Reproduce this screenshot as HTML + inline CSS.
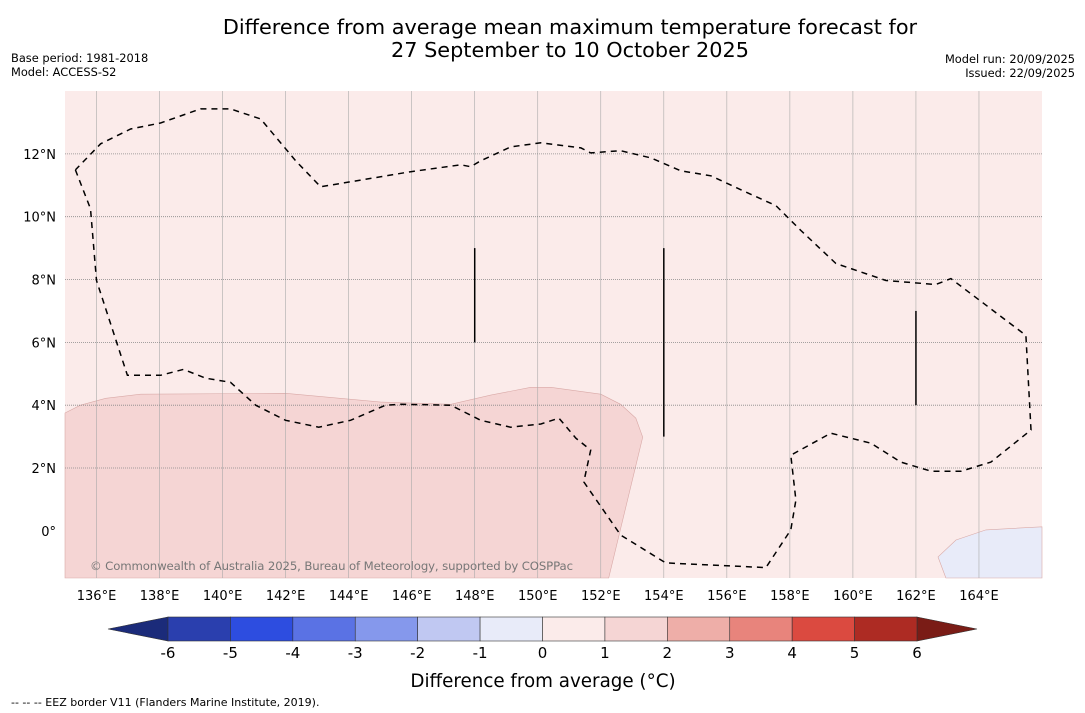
<!DOCTYPE html>
<html><head><meta charset="utf-8"><style>
body{margin:0;background:#fff;width:1085px;height:713px;overflow:hidden;font-family:"Liberation Sans","DejaVu Sans",sans-serif}
svg{position:absolute;left:0;top:0}
</style></head><body>
<svg id="c" width="1085" height="713" font-family="DejaVu Sans, Liberation Sans, sans-serif">
<text x="570" y="34" text-anchor="middle" font-size="20.8">Difference from average mean maximum temperature forecast for</text>
<text x="570" y="57" text-anchor="middle" font-size="20.8">27 September to 10 October 2025</text>
<text x="11" y="62" font-size="11.4">Base period: 1981-2018</text>
<text x="11" y="76" font-size="11.4">Model: ACCESS-S2</text>
<text x="1075" y="63" font-size="11.4" text-anchor="end">Model run: 20/09/2025</text>
<text x="1075" y="77" font-size="11.4" text-anchor="end">Issued: 22/09/2025</text>
<g id="map"></g>
<g id="cbar"></g>
<text x="543" y="687" text-anchor="middle" font-size="18.3">Difference from average (°C)</text>
<text x="11" y="706" font-size="11">--  --  -- EEZ border V11 (Flanders Marine Institute, 2019).</text>
</svg>
<script>
const lonTicks=[136,138,140,142,144,146,148,150,152,154,156,158,160,162,164];
const latTicks=[0,2,4,6,8,10,12];
const anomalyLevels=[-6,-5,-4,-3,-2,-1,0,1,2,3,4,5,6];
const levelColors=["#2a3fae","#2d4de0","#5a72e4","#8598ec","#c0c8f2","#e8ebf9","#fbebea","#f5d5d4","#eeaea8","#e8847c","#db4a40","#ad2b23"];
const warmRegion=[[135,3.75],[135.49,4.0],[136.29,4.22],[137.4,4.35],[142,4.38],[145.02,4.1],[147.24,4.03],[148.51,4.32],[149.78,4.57],[150.41,4.57],[152,4.35],[152.63,4.03],[153.11,3.59],[153.33,2.98],[152.25,-1.5],[135,-1.5]];
const coolRegion=[[162.95,-1.5],[162.7,-0.83],[163.27,-0.29],[164.22,0.03],[166,0.13],[166,-1.5]];
const eezBorder=[[135.33,11.49],[135.81,10.25],[136,7.97],[136.98,4.95],[138.03,4.95],[138.76,5.14],[139.46,4.86],[140.25,4.73],[141.05,4],[142,3.52],[143.05,3.3],[144.06,3.52],[145.17,4],[145.65,4.03],[147.24,4],[148.19,3.52],[149.14,3.3],[150.1,3.4],[150.67,3.59],[151.21,2.95],[151.68,2.57],[151.46,1.56],[152.63,-0.13],[154.06,-1.02],[157.24,-1.17],[158.03,0.03],[158.19,0.98],[158.03,2.41],[159.3,3.11],[160.57,2.79],[161.52,2.19],[162.48,1.9],[163.43,1.9],[164.38,2.19],[165.65,3.21],[165.49,6.22],[163.11,8.03],[162.63,7.84],[161.05,7.97],[159.46,8.51],[158.35,9.56],[157.56,10.35],[156.44,10.86],[155.49,11.3],[154.54,11.46],[153.59,11.87],[152.63,12.1],[151.68,12.03],[151.37,12.19],[150.1,12.35],[149.14,12.22],[148.19,11.78],[147.87,11.59],[147.56,11.65],[145.97,11.43],[143.11,10.95],[142.32,11.78],[141.21,13.11],[140.25,13.43],[139.3,13.43],[138.03,12.98],[137.08,12.79],[136.13,12.32],[135.33,11.49]];
const eezSegments=[[148,9,6],[154,9,3],[162,7,4]];
const NS="http://www.w3.org/2000/svg";
const X0=65,X1=1042,Y0=91,Y1=578,LON0=135,LON1=166,LAT0=-1.5,LAT1=14;
const lx=l=>X0+(l-LON0)/(LON1-LON0)*(X1-X0);
const ly=l=>Y1-(l-LAT0)/(LAT1-LAT0)*(Y1-Y0);
function mk(tag,attrs,parent){const e=document.createElementNS(NS,tag);for(const k in attrs)e.setAttribute(k,attrs[k]);parent.appendChild(e);return e;}
const map=document.getElementById('map');
let bg=mk('rect',{x:X0,y:Y0,width:X1-X0,height:Y1-Y0,fill:"#fbebea"},map);


const pts=a=>a.map(p=>lx(p[0]).toFixed(1)+","+ly(p[1]).toFixed(1)).join(" ");
let w=mk('polygon',{points:pts(warmRegion),fill:"#f5d5d4",stroke:"#d9a9a7","stroke-width":0.6},map);


let cr=mk('polygon',{points:pts(coolRegion),fill:"#e8ebf9",stroke:"#d9a9a7","stroke-width":0.6},map);


lonTicks.forEach(l=>{
 let g=mk('line',{x1:lx(l),x2:lx(l),y1:Y0,y2:Y1,stroke:"#aaa","stroke-width":0.6},map);
 
 
 let t=mk('text',{x:lx(l),y:600,"text-anchor":"middle","font-size":13},map);t.textContent=l+"°E";
 
 
});
latTicks.forEach(l=>{
 if(l>0){let g=mk('line',{x1:X0,x2:X1,y1:ly(l),y2:ly(l),stroke:"#888","stroke-width":0.8,"stroke-dasharray":"1,1"},map);
 
 }
 let t=mk('text',{x:56,y:ly(l)+5,"text-anchor":"end","font-size":13},map);t.textContent=l+"°"+(l>0?"N":"");
 
 
});
let eb=mk('polyline',{points:pts(eezBorder),fill:"none",stroke:"#000","stroke-width":1.5,"stroke-dasharray":"6,5"},map);


eezSegments.forEach(s=>{
 let l=mk('line',{x1:lx(s[0]),x2:lx(s[0]),y1:ly(s[1]),y2:ly(s[2]),stroke:"#000","stroke-width":1.5},map);
 
 
});
let cp=mk('text',{x:90,y:570,"font-size":11.7,fill:"#777",textLength:483},map);cp.textContent="© Commonwealth of Australia 2025, Bureau of Meteorology, supported by COSPPac";


const cb=document.getElementById('cbar');
const C0=168,C1=917,CY=617,CH=24;
const cx=v=>C0+(v-anomalyLevels[0])/(anomalyLevels[anomalyLevels.length-1]-anomalyLevels[0])*(C1-C0);
let tl=mk('polygon',{points:`${C0},${CY} 108,${CY+CH/2} ${C0},${CY+CH}`,fill:"#1b2b7a",stroke:"#333","stroke-width":0.6},cb);


let tr=mk('polygon',{points:`${C1},${CY} 977,${CY+CH/2} ${C1},${CY+CH}`,fill:"#7a1c16",stroke:"#333","stroke-width":0.6},cb);


levelColors.forEach((c,i)=>{
 let r=mk('rect',{x:cx(anomalyLevels[i]),y:CY,width:cx(anomalyLevels[i+1])-cx(anomalyLevels[i]),height:CH,fill:c,stroke:"#333","stroke-width":0.6},cb);
 
 
});
anomalyLevels.forEach(v=>{
 let t=mk('text',{x:cx(v),y:658,"text-anchor":"middle","font-size":15},cb);t.textContent=v;
 
 
});
</script>
</body></html>
